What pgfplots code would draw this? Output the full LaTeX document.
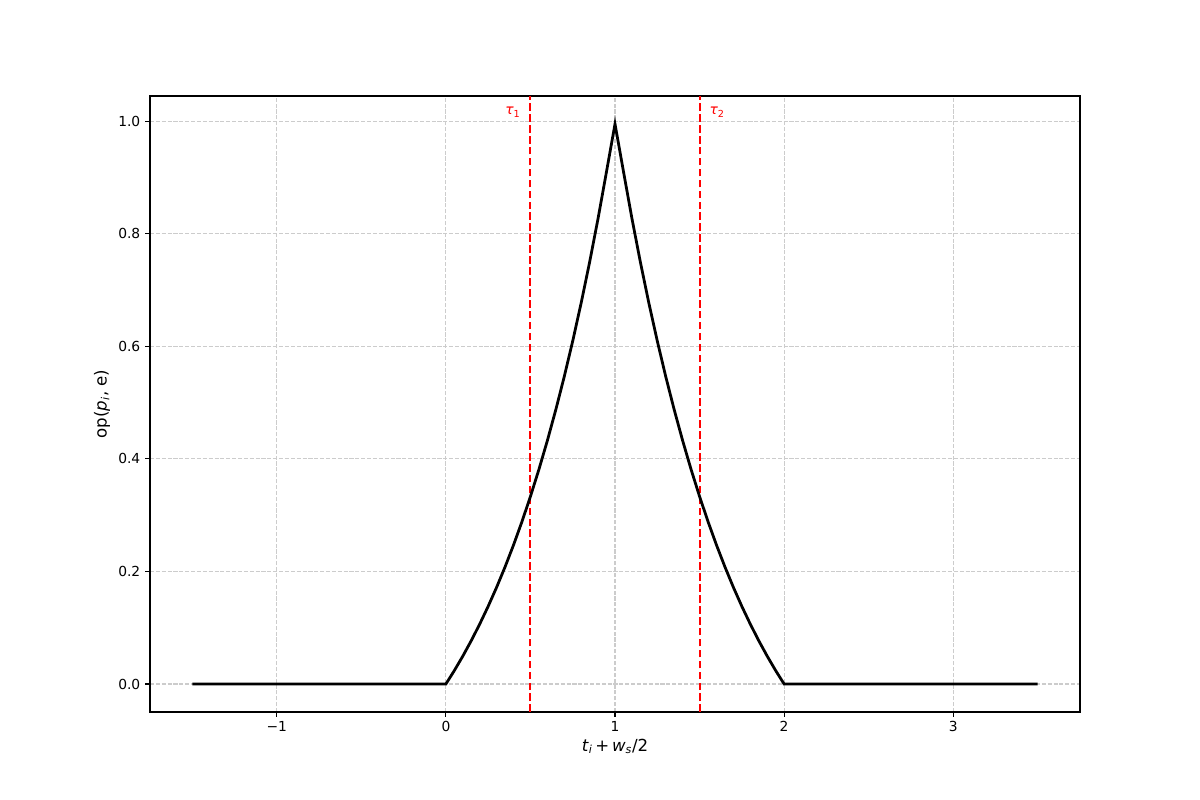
\documentclass[border=0pt]{standalone}
\usepackage{pgfplots}
\pgfplotsset{compat=1.18}
\usepackage{fontspec}
\setmainfont{DejaVu Sans}
\begin{document}
\begin{tikzpicture}
\path[use as bounding box] (0,0) rectangle (12in,8in);
\begin{axis}[at={(1.5in,0.88in)},anchor=south west,scale only axis,
  width=9.3in,height=6.16in,
  xmin=-1.75,xmax=3.75,ymin=-0.04975,ymax=1.04475,
  xtick={-1,0,1,2,3},xticklabels={−1,0,1,2,3},
  ytick={0,0.2,0.4,0.6,0.8,1.0},
  yticklabels={0.0,0.2,0.4,0.6,0.8,1.0},
  xtick pos=bottom,ytick pos=left,
  tick align=outside,major tick length=3.5pt,
  tick style={black,line width=0.8pt},
  axis line style={line width=0.8pt},
  ticklabel style={font=\fontsize{10}{12}\selectfont},
  grid=major,grid style={gray!40,line width=0.8pt,dash pattern=on 2.96pt off 1.28pt},
  xlabel={\textit{t}\textsubscript{\textit{i}}\,+\,\textit{w}\textsubscript{\textit{s}}/2},
  ylabel={op(\textit{p}\textsubscript{\textit{i}}, e)},
  label style={font=\fontsize{12}{14}\selectfont},
  xlabel style={yshift=2pt},
  ylabel style={yshift=-1pt},
  clip=false]
% red threshold lines
\addplot[red,line width=1.5pt,dash pattern=on 5.5pt off 2.4pt] coordinates {(0.5,-0.04975) (0.5,1.04475)};
\addplot[red,line width=1.5pt,dash pattern=on 5.5pt off 2.4pt] coordinates {(1.5,-0.04975) (1.5,1.04475)};
% op curve
\addplot[black,line width=2pt] coordinates {
(-1.5,0) (0,0)
(0.05,0.02392) (0.10,0.04957) (0.15,0.07705) (0.20,0.10650) (0.25,0.13807)
(0.30,0.17191) (0.35,0.20817) (0.40,0.24703) (0.45,0.28869) (0.50,0.33333)
(0.55,0.38118) (0.60,0.43247) (0.65,0.48743) (0.70,0.54634) (0.75,0.60948)
(0.80,0.67714) (0.85,0.74967) (0.90,0.82740) (0.95,0.91071) (1.00,0.995)
(1.05,0.91071) (1.10,0.82740) (1.15,0.74967) (1.20,0.67714) (1.25,0.60948)
(1.30,0.54634) (1.35,0.48743) (1.40,0.43247) (1.45,0.38118) (1.50,0.33333)
(1.55,0.28869) (1.60,0.24703) (1.65,0.20817) (1.70,0.17191) (1.75,0.13807)
(1.80,0.10650) (1.85,0.07705) (1.90,0.04957) (1.95,0.02392) (2.00,0)
(3.5,0)};
\node[red,anchor=east,font=\fontsize{10}{12}\selectfont] at (axis cs:0.47,1.016) {\textit{τ}\textsubscript{1}};
\node[red,anchor=west,font=\fontsize{10}{12}\selectfont] at (axis cs:1.53,1.016) {\textit{τ}\textsubscript{2}};
\end{axis}
\end{tikzpicture}
\end{document}
